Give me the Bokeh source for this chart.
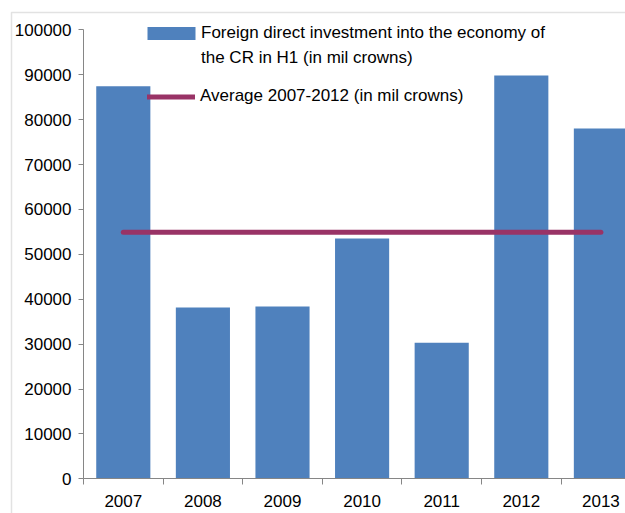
from bokeh.plotting import figure
from bokeh.models import (Range1d, FixedTicker, LinearAxis, NumeralTickFormatter,
                          Legend, LegendItem, BoxAnnotation)
from bokeh.embed import file_html
from bokeh.resources import INLINE

# ---- data ----
years = ["2007", "2008", "2009", "2010", "2011", "2012", "2013"]
fdi = [87400, 38150, 38370, 53500, 30300, 89800, 78000]
average_2007_2012 = 54900
y_ticks = [0, 10000, 20000, 30000, 40000, 50000, 60000, 70000, 80000, 90000, 100000]
label_fdi_1 = "Foreign direct investment into the economy of"
label_fdi_2 = "the CR in H1 (in mil crowns)"
label_avg = "Average 2007-2012 (in mil crowns)"

# ---- layout params (pixels) ----
W, H = 625, 513
axis_x_px = 83.0       # x pixel of the value axis
slot_px = 79.6         # width of one category slot
zero_y_px = 478.3      # y pixel of value 0
top_y_px = 29.3        # y pixel of top tick
ymax = y_ticks[-1]
px_per_unit = (zero_y_px - top_y_px) / ymax
y_start = -(H - zero_y_px) / px_per_unit
y_end = ymax + top_y_px / px_per_unit
x_start = -0.5 - axis_x_px / slot_px
x_end = x_start + W / slot_px
xs = list(range(len(years)))

FONT = "Liberation Sans"
BLUE = "#4F81BD"
PURPLE = "#993366"
AXIS = "#868686"

p = figure(width=W, height=H, output_backend="svg", toolbar_location=None,
           x_range=Range1d(x_start, x_end), y_range=Range1d(y_start, y_end),
           x_axis_type=None, y_axis_type=None,
           min_border=0, min_border_left=0, min_border_top=0,
           min_border_right=0, min_border_bottom=0)
p.outline_line_color = None
p.xgrid.visible = False
p.ygrid.visible = False
p.background_fill_color = "white"
p.border_fill_color = "white"

# value axis at the left slot boundary
yax = LinearAxis(ticker=FixedTicker(ticks=y_ticks, minor_ticks=[]),
                 formatter=NumeralTickFormatter(format="0"),
                 bounds=(0, ymax), fixed_location=-0.5)
yax.axis_line_color = AXIS
yax.major_tick_line_color = AXIS
yax.major_tick_out = 5
yax.major_tick_in = 0
yax.minor_tick_line_color = None
yax.major_label_standoff = 7
yax.major_label_text_font = FONT
yax.major_label_text_font_size = "17px"
yax.major_label_text_color = "#000000"
p.add_layout(yax, "left")

# category axis at y = 0
bounds_ticks = [i - 0.5 for i in range(len(years) + 1)]
xax = LinearAxis(ticker=FixedTicker(ticks=xs, minor_ticks=bounds_ticks),
                 fixed_location=0, bounds=(-0.5, len(years) + 1))
xax.major_label_overrides = {i: y for i, y in enumerate(years)}
xax.axis_line_color = AXIS
xax.major_tick_line_color = None
xax.major_tick_out = 6
xax.major_tick_in = 0
xax.minor_tick_line_color = AXIS
xax.minor_tick_out = 6
xax.minor_tick_in = 0
xax.major_label_standoff = 10
xax.major_label_text_font = FONT
xax.major_label_text_font_size = "17px"
xax.major_label_text_color = "#000000"
p.add_layout(xax, "below")

bars = p.vbar(x=xs, top=fdi, width=0.68, fill_color=BLUE, line_color=None)
avg = p.line(x=[xs[0], xs[-1]], y=[average_2007_2012] * 2, line_color=PURPLE,
             line_width=5, line_cap="round")
# invisible placeholder so the second label line sits on its own legend row
blank = p.line(x=[], y=[], line_alpha=0)


def style_legend(lg):
    lg.label_text_font = FONT
    lg.label_text_font_size = "17px"
    lg.label_text_color = "#000000"
    lg.padding = 0
    lg.margin = 0
    lg.border_line_color = None
    lg.background_fill_alpha = 0


legend_a = Legend(items=[LegendItem(label=label_fdi_1, renderers=[bars]),
                         LegendItem(label=label_fdi_2, renderers=[blank])],
                  location=(141, 445))
style_legend(legend_a)
legend_a.glyph_width = 60
legend_a.glyph_height = 16
legend_a.label_standoff = 0
legend_a.spacing = 5
p.add_layout(legend_a, "center")

legend_b = Legend(items=[LegendItem(label=label_avg, renderers=[avg])],
                  location=(147, 407))
style_legend(legend_b)
legend_b.glyph_width = 48
legend_b.glyph_height = 13
legend_b.label_standoff = 5
p.add_layout(legend_b, "center")

# outer chart border (left and top edges visible, the rest lies outside the picture)
border = BoxAnnotation(left=11, right=5000, top=H - 12, bottom=-5000,
                       left_units="screen", right_units="screen",
                       top_units="screen", bottom_units="screen",
                       fill_alpha=0, line_color="#a0a0a0", line_width=1.5)
p.add_layout(border)

open("out.html", "w").write(file_html(p, INLINE))
